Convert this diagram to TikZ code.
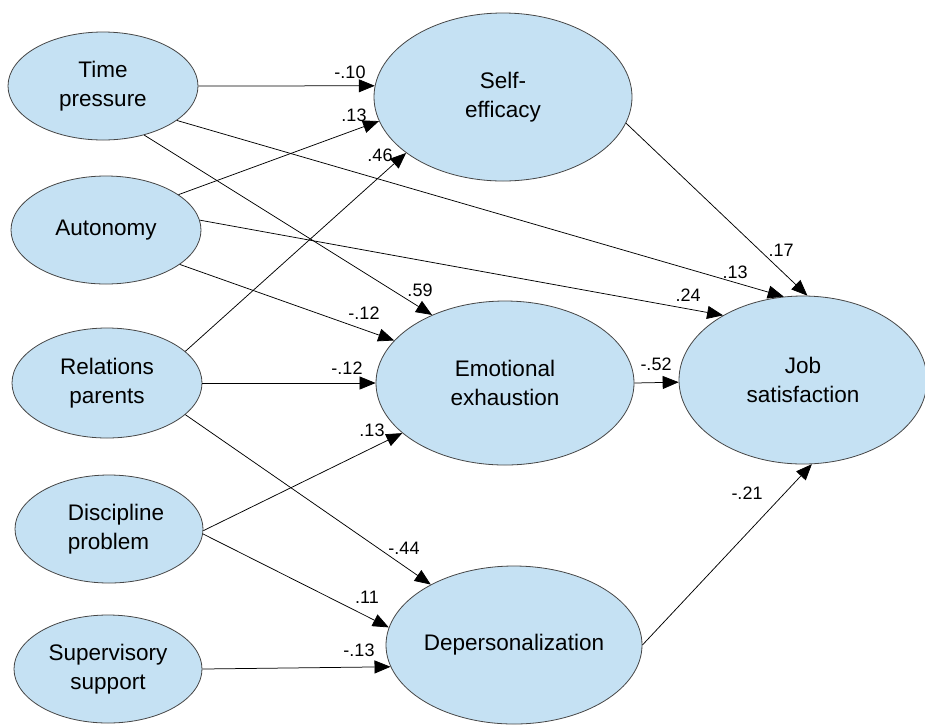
\documentclass[tikz,border=0pt]{standalone}
\usepackage{fontspec}
\setmainfont{Liberation Sans}
\usetikzlibrary{shapes.geometric,arrows.meta}
\definecolor{ellfill}{RGB}{197,225,243}
\definecolor{ellline}{RGB}{70,70,70}
\begin{document}
\begin{tikzpicture}[x=1pt,y=-1pt,
  ell/.style={ellipse, draw=ellline, fill=ellfill, line width=0.8pt, inner sep=0pt, align=center,
              font=\fontsize{22.5}{29}\selectfont},
  ellsz/.style 2 args={minimum width=#1pt, minimum height=#2pt},
  txt/.style={inner sep=0pt, font=\fontsize{22.5}{29}\selectfont},
  coef/.style={inner sep=0pt, font=\fontsize{18}{20}\selectfont},
  arr/.style={-{Triangle[length=16pt,width=13pt]}, line width=0.75pt, draw=black}
]
\useasboundingbox (0,0) rectangle (925,724);
\fill[white] (0,0) rectangle (925,724);

% exogenous
\node[ell, ellsz={190}{108}] (tp) at (103,86)  {Time\\pressure};
\node[ell, ellsz={190}{108}] (au) at (106,230) {Autonomy};
\node[ell, ellsz={190}{110}] (rp) at (107,383) {Relations\\parents};
\node[ell, ellsz={188}{108}] (dp) at (109,529) {};
\node[txt, align=left] (dpt) at (116,529) {Discipline\\problem};
\node[ell, ellsz={188}{108}] (ss) at (108,669) {Supervisory\\support};

% mediators / outcome
\node[ell, ellsz={258}{168}] (se) at (503,97)  {Self-\\efficacy};
\node[ell, ellsz={258}{164}] (ee) at (505,383) {Emotional\\exhaustion};
\node[ell, ellsz={256}{158}] (de) at (514,645) {Depersonalization};
\node[ell, ellsz={248}{168}] (js) at (803,380) {Job\\satisfaction};

% paths
\draw[arr] (tp.0)   -- (se.175);
\draw[arr] (tp.-50) -- (ee.137);
\draw[arr] (tp.-25) -- (js.103);
\draw[arr] (au.26)  -- (se.191);
\draw[arr] (au.6)   -- (js.141);
\draw[arr] (au.-25) -- (ee.159);
\draw[arr] (rp.22)  -- (se.210);
\draw[arr] (rp.0)   -- (ee.180);
\draw[arr] (rp.-22) -- (de.144);
\draw[arr] (dp.-1)  -- (ee.206);
\draw[arr] (dp.-3)  -- (de.172);
\draw[arr] (ss.0)   -- (de.190);
\draw[arr] (se.-12) -- (js.87);
\draw[arr] (ee.0)   -- (js.181);
\draw[arr] (de.0)   -- (js.276);

% coefficients
\node[coef] (c1)  at (350,72)  {-.10};
\node[coef] (c2)  at (354,115) {.13};
\node[coef] (c3)  at (380,155) {.46};
\node[coef] (c4)  at (420,290) {.59};
\node[coef] (c5)  at (364,313) {-.12};
\node[coef] (c6)  at (347,368) {-.12};
\node[coef] (c7)  at (372,430) {.13};
\node[coef] (c8)  at (404,548) {-.44};
\node[coef] (c9)  at (367,597) {.11};
\node[coef] (c10) at (359,650) {-.13};
\node[coef] (c11) at (781,250) {.17};
\node[coef] (c12) at (735,272) {.13};
\node[coef] (c13) at (688,295) {.24};
\node[coef] (c14) at (656,364) {-.52};
\node[coef] (c15) at (747,493) {-.21};
\end{tikzpicture}
\end{document}
